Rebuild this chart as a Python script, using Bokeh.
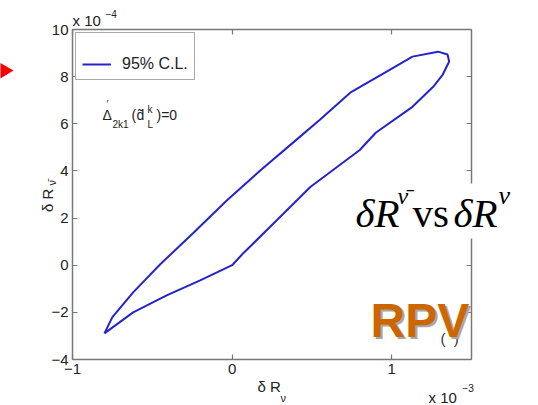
import math
from bokeh.plotting import figure
from bokeh.layouts import column
from bokeh.models import (Range1d, FixedTicker, LinearAxis, Label, Legend, LegendItem,
                          BoxAnnotation, PolyAnnotation, Plot)
from bokeh.embed import file_html
from bokeh.resources import INLINE

# ---- data: delta R_nu (units of 1e-3) vs delta R_nubar (units of 1e-4), 95% C.L. contour ----
dR_nu = [-0.80, -0.75, -0.62, -0.45, -0.245, -0.03, 0.18, 0.38, 0.55, 0.74, 0.99, 1.13,
         1.29, 1.35, 1.36, 1.32, 1.26, 1.13, 0.90, 0.80, 0.49, 0.28, 0.11, 0.07, 0.0,
         -0.20, -0.41, -0.62, -0.80]
dR_nubar = [-2.89, -2.20, -1.15, 0.04, 1.36, 2.77, 4.04, 5.19, 6.17, 7.32, 8.30, 8.85,
            9.06, 8.94, 8.64, 8.09, 7.57, 6.72, 5.62, 4.89, 3.32, 1.91, 0.77, 0.51, 0.0,
            -0.64, -1.28, -2.00, -2.89]
x_ticks = [-1, 0, 1]
y_ticks = [-4, -2, 0, 2, 4, 6, 8, 10]
legend_label = "95% C.L."

W, H = 538, 405
BLUE = "#2424cc"
AX = "#777777"
TXT = "#222222"
SANS = "Liberation Sans"
SERIF = "Liberation Serif"

# ---------------- main chart ----------------
p = figure(width=W, height=H, output_backend="svg", toolbar_location=None,
           x_range=Range1d(-1, 1.5), y_range=Range1d(-4, 10),
           x_axis_type=None, y_axis_type=None,
           min_border_left=72, min_border_right=67, min_border_top=29, min_border_bottom=46)
p.outline_line_color = None
p.background_fill_color = "white"
p.border_fill_color = "white"


def mk_axis(ticks, show):
    return LinearAxis(ticker=FixedTicker(ticks=ticks), axis_line_color=AX, axis_line_width=1.5,
                      major_tick_in=5, major_tick_out=0, major_tick_line_color=AX,
                      major_tick_line_width=1.2, minor_tick_line_color=None,
                      major_label_standoff=4, major_label_text_font=SANS,
                      major_label_text_font_size="15px", major_label_text_color=TXT,
                      major_label_text_alpha=1 if show else 0)


p.add_layout(mk_axis(x_ticks, True), "below")
p.add_layout(mk_axis(y_ticks, True), "left")
p.add_layout(mk_axis(x_ticks, False), "above")
p.add_layout(mk_axis(y_ticks, False), "right")

curve = p.line(dR_nu, dR_nubar, line_color=BLUE, line_width=2)
blank = p.line(dR_nu, dR_nubar, line_alpha=0)

legend = Legend(items=[LegendItem(label=" ", renderers=[blank]),
                       LegendItem(label=legend_label, renderers=[curve])],
                location="top_left", margin=3, padding=6, spacing=-1,
                glyph_width=29, glyph_height=16, label_height=16, label_standoff=11,
                border_line_color="#555555", border_line_width=1,
                background_fill_color="white", background_fill_alpha=1,
                label_text_font=SANS, label_text_font_size="16px", label_text_color=TXT)
p.add_layout(legend)

# ---------------- transparent overlay for free texts ----------------
ov = figure(width=W, height=H, output_backend="svg", toolbar_location=None,
            x_range=Range1d(0, W), y_range=Range1d(H, 0), title=None,
            x_axis_type=None, y_axis_type=None, min_border=0)
ov.outline_line_color = None
ov.background_fill_alpha = 0
ov.border_fill_alpha = 0
ov.margin = (-H, 0, 0, 0)
if "frame_align" in Plot.properties():
    p.frame_align = False
    ov.frame_align = False


def lab(text, x, y_base, size, font=SANS, style="normal", color=TXT, align="left",
        angle=0.0):
    ov.add_layout(Label(x=x, y=y_base - 0.36 * size, x_units="canvas", y_units="canvas",
                        text=text, text_font=font, text_font_size=f"{size}px",
                        text_font_style=style, text_color=color, text_align=align,
                        text_baseline="alphabetic", angle=angle))


# exponent labels
lab("x 10", 72, 25, 15)
lab("\u22124", 105, 17, 10)
lab("x 10", 428, 402, 15)
lab("\u22123", 462, 391, 10)

# axis titles
lab("\u03b4 R", 257, 391, 15)
lab("\u03bd", 280, 401, 11)
lab("\u03b4 R", 47, 217, 15, angle=math.pi / 2)
lab("\u03bd\u0304", 51, 189, 11, angle=math.pi / 2)

# in-plot annotation: Delta'_{2k1}(d~^k_L)=0
lab("\u0394", 102, 120, 14)
lab("\u2032", 106, 108, 10)
lab("2k1", 112, 128, 10)
lab("(", 131, 120, 14)
lab("d\u0303", 136, 120, 14)
lab("k", 147, 113, 10)
lab("L", 147, 128, 10)
lab(")=0", 156, 120, 14)

# white box with comparison title
ov.add_layout(BoxAnnotation(left=350, right=W, top=183, bottom=238,
                            left_units="canvas", right_units="canvas",
                            top_units="canvas", bottom_units="canvas",
                            fill_color="white", fill_alpha=1, line_color=None))
lab("\u03b4R", 355, 227, 41, font=SERIF, style="italic", color="black")
lab("\u03bd\u0304", 397, 204, 24, font=SERIF, style="italic", color="black")
lab("vs", 412, 227, 41, font=SERIF, color="black")
lab("\u03b4R", 453, 227, 41, font=SERIF, style="italic", color="black")
lab("\u03bd", 498, 204, 26, font=SERIF, style="italic", color="black")

# RPV tag
lab("(\u00a0\u00a0)", 440, 343, 15, color="#333333")
lab("RPV", 372, 339, 48, style="bold", color="#a8a8a8")
lab("RPV", 370, 337, 48, style="bold", color="#cc6600")

# red pointer arrow at the left edge
ov.add_layout(PolyAnnotation(xs=[-10, 13, -10], ys=[57, 70, 84],
                             xs_units="canvas", ys_units="canvas",
                             fill_color="red", fill_alpha=1, line_color=None))

layout = column(p, ov, spacing=0)
open("out.html", "w").write(file_html(layout, INLINE))
